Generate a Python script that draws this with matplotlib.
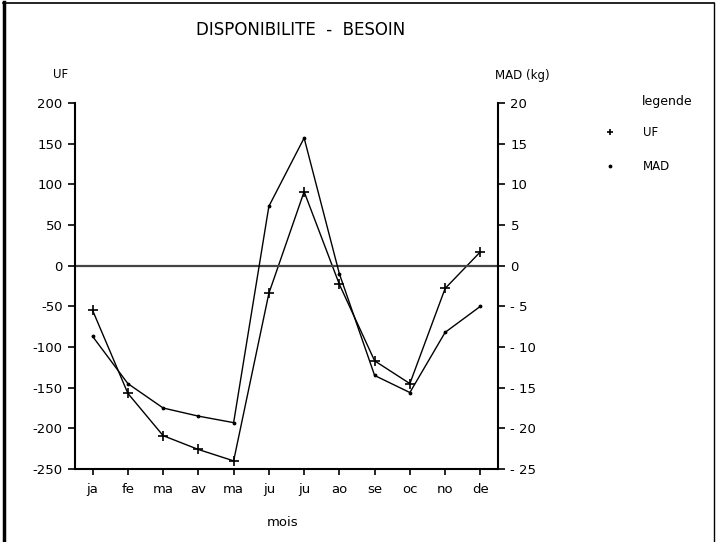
import matplotlib
matplotlib.use("Agg")
import matplotlib.pyplot as plt
from matplotlib import font_manager
from matplotlib.lines import Line2D

# ---- data ----
months = ["ja", "fe", "ma", "av", "ma", "ju", "ju", "ao", "se", "oc", "no", "de"]
uf_values = [-55, -157, -209, -226, -240, -34, 91, -23, -117, -145, -28, 17]
mad_values = [-8.7, -14.5, -17.5, -18.5, -19.3, 7.3, 15.7, -1.0, -13.5, -15.6, -8.2, -5.0]
uf_ticks = [200, 150, 100, 50, 0, -50, -100, -150, -200, -250]
mad_ticks = [20, 15, 10, 5, 0, -5, -10, -15, -20, -25]

names = {f.name for f in font_manager.fontManager.ttflist}
if "Liberation Sans Narrow" in names:
    plt.rcParams["font.family"] = ["Liberation Sans Narrow", "DejaVu Sans"]
else:
    plt.rcParams["font.family"] = ["DejaVu Sans"]

W, H = 717, 542
fig = plt.figure(figsize=(W / 100, H / 100), dpi=100)
fig.patch.set_facecolor("white")

def fx(px):
    return px / W

def fy(py):
    return 1 - py / H

L, R, T, B = 75, 498, 103, 469
ax = fig.add_axes([fx(L), fy(B), fx(R) - fx(L), fy(T) - fy(B)])
ax2 = ax.twinx()

x = list(range(1, len(months) + 1))
ax.plot(x, uf_values, color="black", lw=1.0, marker="+", ms=6.5, mew=1.2)
ax2.plot(x, mad_values, color="black", lw=1.0, marker=".", ms=3.5)

ax.axhline(0, color="#444444", lw=1.6)

ax.set_xlim(0.5, 12.5)
ax.set_ylim(-250, 200)
ax2.set_ylim(-25, 20)
ax.set_xticks(x)
ax.set_xticklabels(months)
ax.set_yticks(uf_ticks)
ax.set_yticklabels([str(v) if v >= 0 else "-" + str(-v) for v in uf_ticks])
ax2.set_yticks(mad_ticks)
ax2.set_yticklabels([str(v) if v >= 0 else "- " + str(-v) for v in mad_ticks])

for a in (ax, ax2):
    a.spines["top"].set_visible(False)
    for s in ("left", "right", "bottom"):
        a.spines[s].set_linewidth(1.5)
ax.spines["right"].set_visible(False)
ax2.spines["left"].set_visible(False)
ax2.spines["bottom"].set_visible(False)
ax.tick_params(axis="y", direction="out", length=5, width=1.2, labelsize=9.5, pad=4)
ax.tick_params(axis="x", direction="out", length=4, width=1.2, labelsize=9.5, pad=6)
ax2.tick_params(axis="y", direction="out", length=5, width=1.2, labelsize=9.5, pad=4)

# texts
fig.text(fx(301), fy(30), "DISPONIBILITE  -  BESOIN", ha="center", va="center", fontsize=12)
fig.text(fx(61), fy(75), "UF", ha="center", va="center", fontsize=8.5)
fig.text(fx(495), fy(75), "MAD (kg)", ha="left", va="center", fontsize=8.5)
fig.text(fx(283), fy(522), "mois", ha="center", va="center", fontsize=9.5)

# legend
fig.text(fx(642), fy(102), "legende", ha="left", va="center", fontsize=9)
fig.add_artist(Line2D([fx(610)], [fy(132)], marker="+", color="black", ms=5, mew=1.2, ls="none"))
fig.text(fx(643), fy(132), "UF", ha="left", va="center", fontsize=8.5)
fig.add_artist(Line2D([fx(610)], [fy(166)], marker=".", color="black", ms=3.5, ls="none"))
fig.text(fx(643), fy(166), "MAD", ha="left", va="center", fontsize=8.5)

# frame around the figure
fig.add_artist(Line2D([fx(4), fx(4)], [fy(2), fy(542)], color="black", lw=2.5))
fig.add_artist(Line2D([fx(3), fx(714)], [fy(3), fy(3)], color="black", lw=1.2))
fig.add_artist(Line2D([fx(714), fx(714)], [fy(3), fy(542)], color="black", lw=1.0))

fig.savefig("out.png", dpi=100, facecolor="white")
